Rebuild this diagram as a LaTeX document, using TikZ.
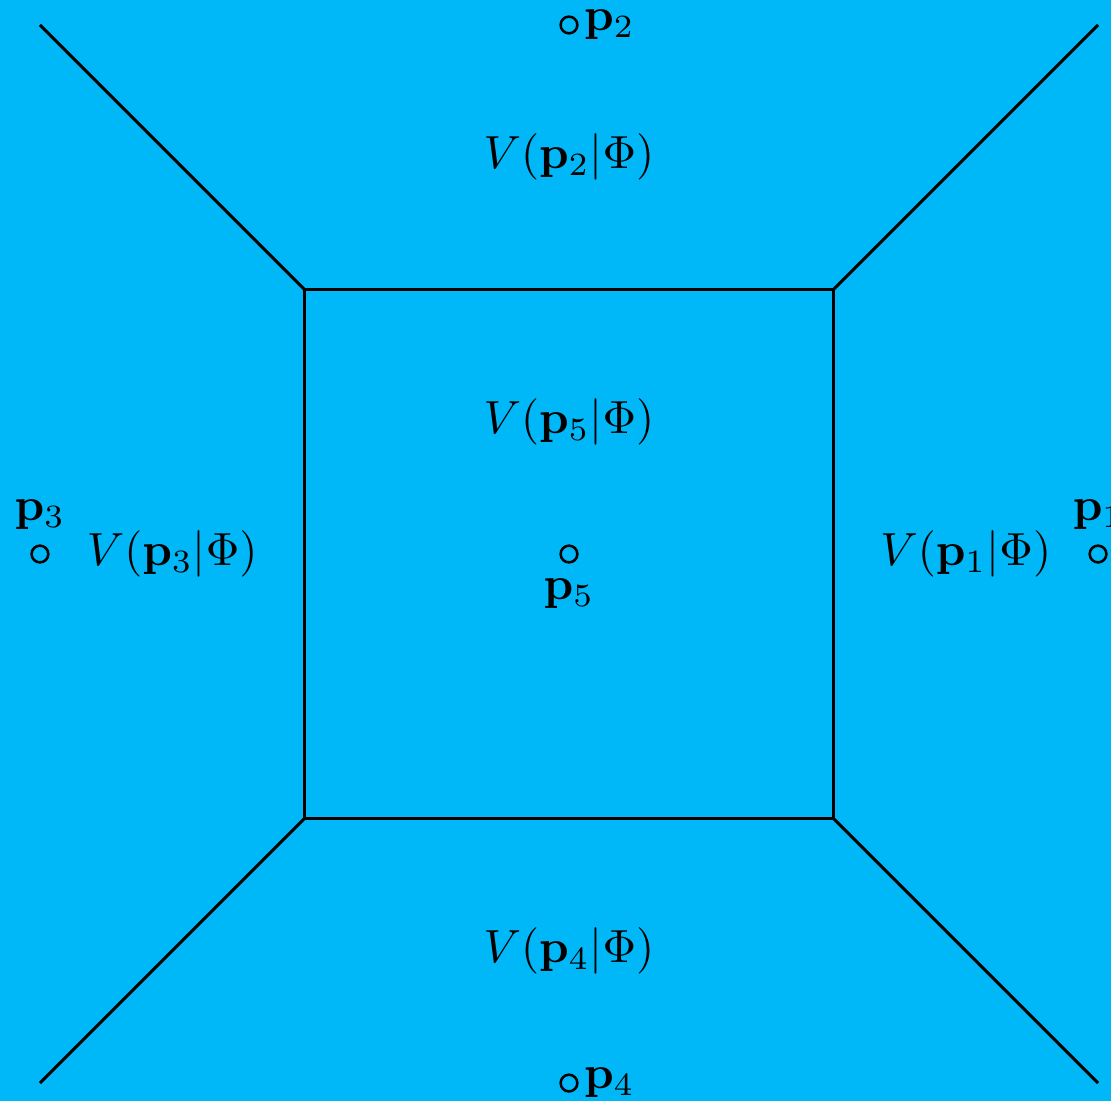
\documentclass[tikz,border=0pt]{standalone}
\usepackage{amsmath}
\definecolor{bgblue}{RGB}{0,184,248}
\begin{document}
\begin{tikzpicture}[x=2cm,y=2cm,
  edge/.style={line width=0.65pt,black},
  site/.style={circle,draw=black,line width=0.55pt,minimum size=3.6pt,inner sep=0pt},
  cellname/.style={inner sep=0pt}]
\fill[bgblue] (-2.151,-2.068) rectangle (2.049,2.0945);
\useasboundingbox (-2.151,-2.068) rectangle (2.049,2.0945);
% square corners and outer ends
\coordinate (a) at (-1,1);
\coordinate (b) at (1,1);
\coordinate (c) at (1,-1);
\coordinate (d) at (-1,-1);
\coordinate (oa) at (-2,2);
\coordinate (ob) at (2,2);
\coordinate (oc) at (2,-2);
\coordinate (od) at (-2,-2);
\draw[edge] (a) -- (b) -- (c) -- (d) -- cycle;
\draw[edge] (a) -- (oa);
\draw[edge] (b) -- (ob);
\draw[edge] (c) -- (oc);
\draw[edge] (d) -- (od);
% sites
\node[site] (p1) at (2,0) {};
\node[site] (p2) at (0,2) {};
\node[site] (p3) at (-2,0) {};
\node[site] (p4) at (0,-2) {};
\node[site] (p5) at (0,0) {};
\node[anchor=south,inner sep=3pt] (l1) at (p1.north) {$\mathbf{p}_1$};
\node[anchor=west,inner sep=1pt] (l2) at (p2.east) {$\mathbf{p}_2$};
\node[anchor=south,inner sep=3pt] (l3) at (p3.north) {$\mathbf{p}_3$};
\node[anchor=west,inner sep=1pt] (l4) at (p4.east) {$\mathbf{p}_4$};
\node[anchor=north,inner sep=3pt] (l5) at (p5.south) {$\mathbf{p}_5$};
% cell names
\node[cellname] (v1) at (1.5,0) {$V(\mathbf{p}_1|\Phi)$};
\node[cellname] (v2) at (0,1.5) {$V(\mathbf{p}_2|\Phi)$};
\node[cellname] (v3) at (-1.5,0) {$V(\mathbf{p}_3|\Phi)$};
\node[cellname] (v4) at (0,-1.5) {$V(\mathbf{p}_4|\Phi)$};
\node[cellname] (v5) at (0,0.5) {$V(\mathbf{p}_5|\Phi)$};
\end{tikzpicture}
\end{document}
